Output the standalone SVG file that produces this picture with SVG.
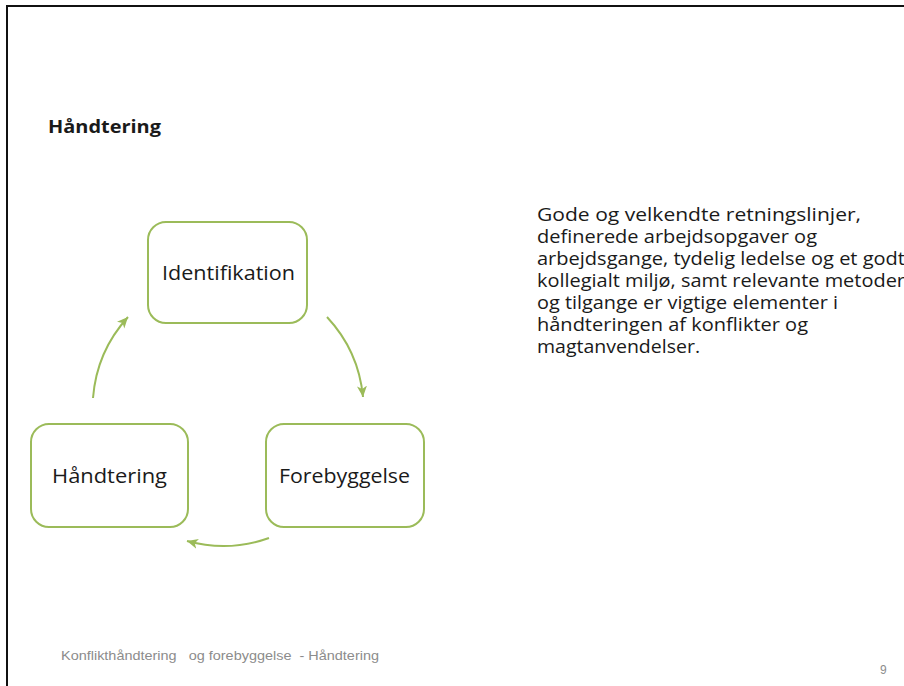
<svg xmlns="http://www.w3.org/2000/svg" width="904" height="686" viewBox="0 0 904 686">
<style>
.box{fill:#fff;stroke:#9bbb59;stroke-width:2}
.lbl{font-family:"Open Sans","Noto Sans","Liberation Sans",sans-serif;font-size:20px;fill:#1a1a1a}
.body{font-family:"Open Sans","Noto Sans","Liberation Sans",sans-serif;font-size:18px;fill:#1a1a1a}
.arr{fill:none;stroke:#9bbb59;stroke-width:2;marker-end:url(#ah)}
</style>
<defs>
<marker id="ah" markerUnits="userSpaceOnUse" markerWidth="12" markerHeight="12" viewBox="0 0 12 12" refX="11" refY="6" orient="auto">
<path d="M0,1 L11,6 L0,11 L3,6 Z" fill="#9bbb59"/>
</marker>
</defs>
<rect width="904" height="686" fill="#fff"/>
<path d="M7,686 V6 H904" fill="none" stroke="#111" stroke-width="2"/>
<text x="48" y="133" font-family="'Open Sans','Noto Sans','Liberation Sans',sans-serif" font-size="18" font-weight="bold" fill="#1a1a1a" textLength="113" lengthAdjust="spacingAndGlyphs">Håndtering</text>
<g id="connectors">
<path class="arr" d="M327,317 A136,136 0 0 1 363,397"/>
<path class="arr" d="M269,538 A136,136 0 0 1 187,541"/>
<path class="arr" d="M93,398 A136,136 0 0 1 128,317"/>
</g>
<g id="identifikation">
<rect class="box" x="148" y="222" width="159" height="101" rx="18"/>
<text class="lbl" x="162" y="280" textLength="133" lengthAdjust="spacingAndGlyphs">Identifikation</text>
</g>
<g id="forebyggelse">
<rect class="box" x="266" y="424" width="158" height="103" rx="18"/>
<text class="lbl" x="279" y="483" textLength="131" lengthAdjust="spacingAndGlyphs">Forebyggelse</text>
</g>
<g id="haandtering">
<rect class="box" x="31" y="424" width="157" height="103" rx="18"/>
<text class="lbl" x="52" y="483" textLength="115" lengthAdjust="spacingAndGlyphs">Håndtering</text>
</g>
<g id="body">
<text class="body" x="537" y="221" textLength="324" lengthAdjust="spacingAndGlyphs">Gode og velkendte retningslinjer,</text>
<text class="body" x="537" y="243" textLength="280" lengthAdjust="spacingAndGlyphs">definerede arbejdsopgaver og</text>
<text class="body" x="537" y="265" textLength="368" lengthAdjust="spacingAndGlyphs">arbejdsgange, tydelig ledelse og et godt</text>
<text class="body" x="537" y="287" textLength="368" lengthAdjust="spacingAndGlyphs">kollegialt miljø, samt relevante metoder</text>
<text class="body" x="537" y="309" textLength="301" lengthAdjust="spacingAndGlyphs">og tilgange er vigtige elementer i</text>
<text class="body" x="537" y="331" textLength="271" lengthAdjust="spacingAndGlyphs">håndteringen af konflikter og</text>
<text class="body" x="537" y="353" textLength="163" lengthAdjust="spacingAndGlyphs">magtanvendelser.</text>
</g>
<text x="61" y="660" xml:space="preserve" style="white-space:pre" font-family="'Liberation Sans',Arial,sans-serif" font-size="12" fill="#8c8c8c" textLength="318" lengthAdjust="spacingAndGlyphs">Konflikthåndtering   og forebyggelse  - Håndtering</text>
<text x="880" y="674" font-family="'Liberation Sans',Arial,sans-serif" font-size="12" fill="#8c8c8c">9</text>
</svg>
